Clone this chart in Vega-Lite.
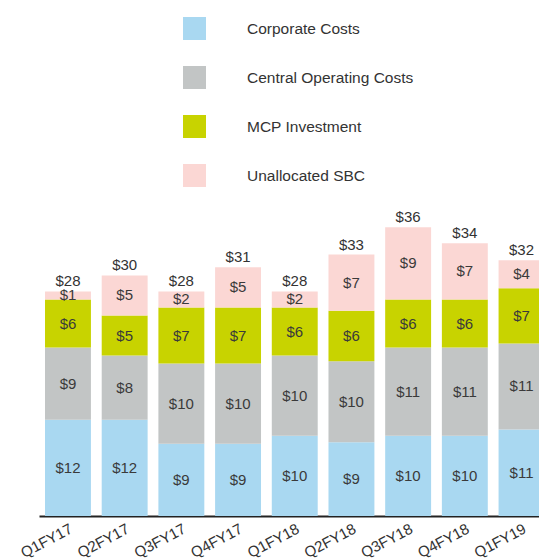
{
  "$schema": "https://vega.github.io/schema/vega-lite/v6.json",
  "width": 500,
  "height": 316,
  "autosize": {"type": "none"},
  "padding": {"left": 39, "top": 200, "right": 0, "bottom": 44},
  "background": "#ffffff",
  "config": {"view": {"stroke": null}, "font": "Liberation Sans"},
  "data": {
    "values": [
      {"quarter": "Q1FY17", "category": "Corporate Costs", "value": 12},
      {"quarter": "Q1FY17", "category": "Central Operating Costs", "value": 9},
      {"quarter": "Q1FY17", "category": "MCP Investment", "value": 6},
      {"quarter": "Q1FY17", "category": "Unallocated SBC", "value": 1},
      {"quarter": "Q2FY17", "category": "Corporate Costs", "value": 12},
      {"quarter": "Q2FY17", "category": "Central Operating Costs", "value": 8},
      {"quarter": "Q2FY17", "category": "MCP Investment", "value": 5},
      {"quarter": "Q2FY17", "category": "Unallocated SBC", "value": 5},
      {"quarter": "Q3FY17", "category": "Corporate Costs", "value": 9},
      {"quarter": "Q3FY17", "category": "Central Operating Costs", "value": 10},
      {"quarter": "Q3FY17", "category": "MCP Investment", "value": 7},
      {"quarter": "Q3FY17", "category": "Unallocated SBC", "value": 2},
      {"quarter": "Q4FY17", "category": "Corporate Costs", "value": 9},
      {"quarter": "Q4FY17", "category": "Central Operating Costs", "value": 10},
      {"quarter": "Q4FY17", "category": "MCP Investment", "value": 7},
      {"quarter": "Q4FY17", "category": "Unallocated SBC", "value": 5},
      {"quarter": "Q1FY18", "category": "Corporate Costs", "value": 10},
      {"quarter": "Q1FY18", "category": "Central Operating Costs", "value": 10},
      {"quarter": "Q1FY18", "category": "MCP Investment", "value": 6},
      {"quarter": "Q1FY18", "category": "Unallocated SBC", "value": 2},
      {"quarter": "Q2FY18", "category": "Corporate Costs", "value": 9.2},
      {"quarter": "Q2FY18", "category": "Central Operating Costs", "value": 10.1},
      {"quarter": "Q2FY18", "category": "MCP Investment", "value": 6.3},
      {"quarter": "Q2FY18", "category": "Unallocated SBC", "value": 7.0},
      {"quarter": "Q3FY18", "category": "Corporate Costs", "value": 10},
      {"quarter": "Q3FY18", "category": "Central Operating Costs", "value": 11},
      {"quarter": "Q3FY18", "category": "MCP Investment", "value": 6},
      {"quarter": "Q3FY18", "category": "Unallocated SBC", "value": 9},
      {"quarter": "Q4FY18", "category": "Corporate Costs", "value": 10},
      {"quarter": "Q4FY18", "category": "Central Operating Costs", "value": 11},
      {"quarter": "Q4FY18", "category": "MCP Investment", "value": 6},
      {"quarter": "Q4FY18", "category": "Unallocated SBC", "value": 7},
      {"quarter": "Q1FY19", "category": "Corporate Costs", "value": 10.8},
      {"quarter": "Q1FY19", "category": "Central Operating Costs", "value": 10.7},
      {"quarter": "Q1FY19", "category": "MCP Investment", "value": 6.9},
      {"quarter": "Q1FY19", "category": "Unallocated SBC", "value": 3.5}
    ]
  },
  "encoding": {
    "x": {
      "field": "quarter",
      "type": "nominal",
      "sort": null,
      "scale": {"range": [0, 511.5], "paddingInner": 0.19, "paddingOuter": 0.106},
      "axis": {
        "title": null,
        "labelAngle": -28,
        "labelFontSize": 15,
        "labelColor": "#333333",
        "labelPadding": 5,
        "ticks": false,
        "domainColor": "#222222",
        "domainWidth": 2
      }
    }
  },
  "layer": [
    {
      "transform": [
        {"calculate": "indexof(['Corporate Costs','Central Operating Costs','MCP Investment','Unallocated SBC'], datum.category)", "as": "ord"},
        {"stack": "value", "groupby": ["quarter"], "sort": [{"field": "ord", "order": "ascending"}], "as": ["y0", "y1"]},
        {"calculate": "(datum.y0 + datum.y1) / 2", "as": "ymid"}
      ],
      "layer": [
        {
          "mark": {"type": "bar", "clip": true},
          "encoding": {
            "y": {"field": "y0", "type": "quantitative", "scale": {"domain": [0, 39.4], "nice": false, "zero": true}, "axis": null},
            "y2": {"field": "y1"},
            "color": {
              "field": "category",
              "type": "nominal",
              "scale": {
                "domain": ["Corporate Costs", "Central Operating Costs", "MCP Investment", "Unallocated SBC"],
                "range": ["#a9d8f1", "#c2c5c5", "#c8d300", "#fbd7d4"]
              },
              "legend": {
                "title": null,
                "orient": "none",
                "legendX": 144,
                "legendY": -183,
                "symbolType": "square",
                "symbolSize": 529,
                "symbolStrokeWidth": 0,
                "symbolOpacity": 1,
                "rowPadding": 26,
                "labelOffset": 41,
                "labelFontSize": 15.5,
                "labelColor": "#333333",
                "labelLimit": 300,
                "padding": 0
              }
            }
          }
        },
        {
          "mark": {"type": "text", "fontSize": 15, "color": "#3a3a3a", "baseline": "middle", "clip": true},
          "encoding": {
            "y": {"field": "ymid", "type": "quantitative"},
            "text": {"field": "value", "type": "quantitative", "format": "$.0f"}
          }
        }
      ]
    },
    {
      "transform": [
        {"aggregate": [{"op": "sum", "field": "value", "as": "total"}], "groupby": ["quarter"]}
      ],
      "mark": {"type": "text", "fontSize": 15, "color": "#333333", "baseline": "alphabetic", "dy": -5, "clip": true},
      "encoding": {
        "y": {"field": "total", "type": "quantitative"},
        "text": {"field": "total", "type": "quantitative", "format": "$.0f"}
      }
    }
  ]
}
